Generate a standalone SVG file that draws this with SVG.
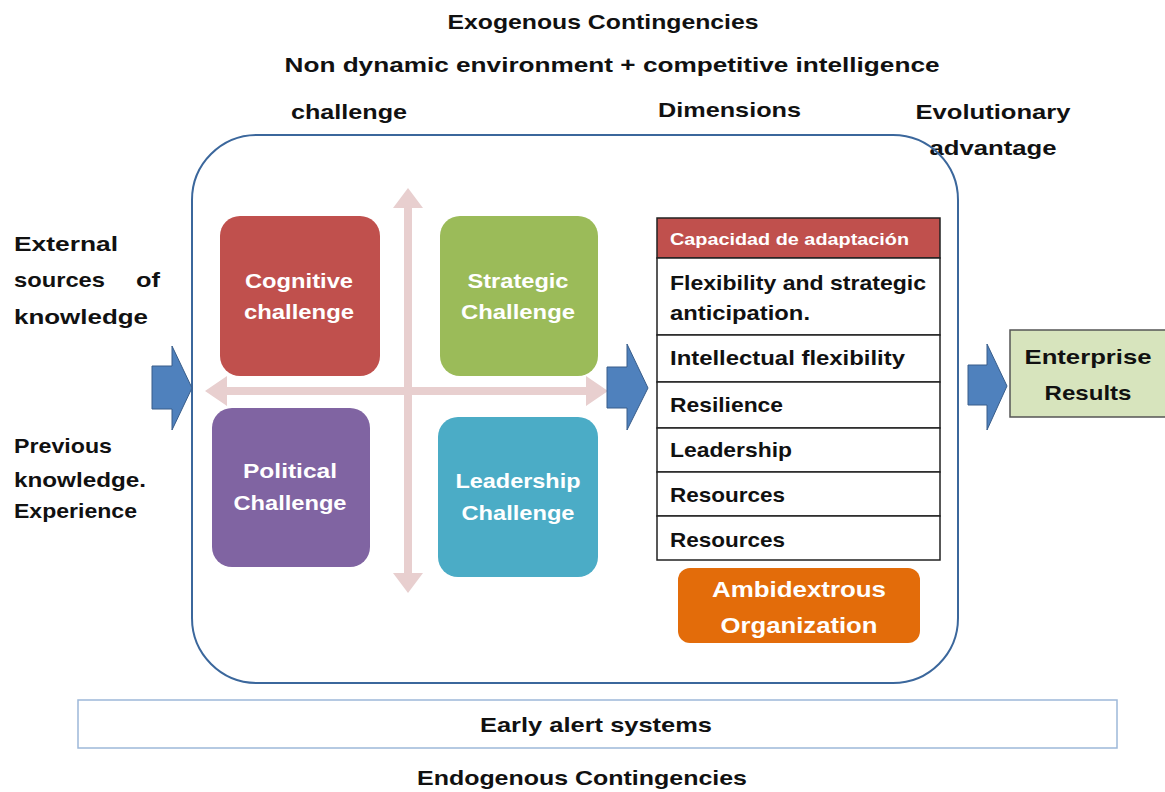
<svg xmlns="http://www.w3.org/2000/svg" width="1165" height="792" viewBox="0 0 1165 792">
<style>
text{font-family:"Liberation Sans",Arial,sans-serif;font-weight:bold;font-size:21px;fill:#111}
.w{fill:#fff}
.c{text-anchor:middle}
.quad{stroke:none}
.arr{fill:#4f81bd;stroke:#385d8a;stroke-width:1}
.cross{fill:#e8cfcf}
.row{fill:#fff;stroke:#222;stroke-width:1.5}
</style>
<rect width="1165" height="792" fill="#fff"/>
<g id="labels">
<text class="c" x="603" y="29" textLength="311" lengthAdjust="spacingAndGlyphs">Exogenous Contingencies</text>
<text class="c" x="612" y="72" textLength="655" lengthAdjust="spacingAndGlyphs">Non dynamic environment + competitive intelligence</text>
<text x="291" y="119" textLength="116" lengthAdjust="spacingAndGlyphs">challenge</text>
<text x="658" y="117" textLength="143" lengthAdjust="spacingAndGlyphs">Dimensions</text>
<text class="c" x="993" y="119" textLength="155" lengthAdjust="spacingAndGlyphs">Evolutionary</text>
<text class="c" x="993" y="155" textLength="127" lengthAdjust="spacingAndGlyphs">advantage</text>
<text x="14" y="251" textLength="104" lengthAdjust="spacingAndGlyphs">External</text>
<text x="14" y="287" textLength="91" lengthAdjust="spacingAndGlyphs">sources</text>
<text x="136" y="287" textLength="24" lengthAdjust="spacingAndGlyphs">of</text>
<text x="14" y="324" textLength="134" lengthAdjust="spacingAndGlyphs">knowledge</text>
<text x="14" y="453" textLength="98" lengthAdjust="spacingAndGlyphs">Previous</text>
<text x="14" y="487" textLength="132" lengthAdjust="spacingAndGlyphs">knowledge.</text>
<text x="14" y="518" textLength="123" lengthAdjust="spacingAndGlyphs">Experience</text>
<text class="c" x="582" y="785" textLength="330" lengthAdjust="spacingAndGlyphs">Endogenous Contingencies</text>
</g>
<g id="frame">
<rect x="192" y="135" width="766" height="548" rx="65" ry="65" fill="none" stroke="#3b679c" stroke-width="2"/>
</g>
<g id="connectors">
<polygon class="cross" points="408,188 423,208 412,208 412,387 586,387 586,376 608,391 586,406 586,395 412,395 412,573 423,573 408,593 393,573 404,573 404,395 227,395 227,406 205,391 227,376 227,387 404,387 404,208 393,208"/>
<polygon class="arr" points="152,366 172,366 172,346 192,388 172,430 172,409 152,409"/>
<polygon class="arr" points="607,367 627,367 627,344 648,388 627,430 627,408 607,408"/>
<polygon class="arr" points="968,365 987,365 987,344 1007,386 987,430 987,405 968,405"/>
</g>
<g id="cognitive">
<rect class="quad" x="220" y="216" width="160" height="160" rx="20" fill="#c0504d"/>
<text class="w c" x="299" y="288" textLength="108" lengthAdjust="spacingAndGlyphs">Cognitive</text>
<text class="w c" x="299" y="319" textLength="110" lengthAdjust="spacingAndGlyphs">challenge</text>
</g>
<g id="strategic">
<rect class="quad" x="440" y="216" width="158" height="160" rx="20" fill="#9bbb59"/>
<text class="w c" x="518" y="288" textLength="101" lengthAdjust="spacingAndGlyphs">Strategic</text>
<text class="w c" x="518" y="319" textLength="114" lengthAdjust="spacingAndGlyphs">Challenge</text>
</g>
<g id="political">
<rect class="quad" x="212" y="408" width="158" height="159" rx="20" fill="#8064a2"/>
<text class="w c" x="290" y="478" textLength="94" lengthAdjust="spacingAndGlyphs">Political</text>
<text class="w c" x="290" y="510" textLength="113" lengthAdjust="spacingAndGlyphs">Challenge</text>
</g>
<g id="leadership">
<rect class="quad" x="438" y="417" width="160" height="160" rx="20" fill="#4bacc6"/>
<text class="w c" x="518" y="488" textLength="125" lengthAdjust="spacingAndGlyphs">Leadership</text>
<text class="w c" x="518" y="520" textLength="113" lengthAdjust="spacingAndGlyphs">Challenge</text>
</g>
<g id="dimensions-table">
<rect x="657" y="218" width="283" height="40" fill="#c0504d" stroke="#222" stroke-width="1.5"/>
<text class="w" x="670" y="245" style="font-size:16px" textLength="239" lengthAdjust="spacingAndGlyphs">Capacidad de adaptación</text>
<rect class="row" x="657" y="258" width="283" height="77"/>
<text x="670" y="290" textLength="256" lengthAdjust="spacingAndGlyphs">Flexibility and strategic</text>
<text x="670" y="320" textLength="140" lengthAdjust="spacingAndGlyphs">anticipation.</text>
<rect class="row" x="657" y="335" width="283" height="47"/>
<text x="670" y="365" textLength="235" lengthAdjust="spacingAndGlyphs">Intellectual flexibility</text>
<rect class="row" x="657" y="382" width="283" height="46"/>
<text x="670" y="412" textLength="113" lengthAdjust="spacingAndGlyphs">Resilience</text>
<rect class="row" x="657" y="428" width="283" height="44"/>
<text x="670" y="457" textLength="122" lengthAdjust="spacingAndGlyphs">Leadership</text>
<rect class="row" x="657" y="472" width="283" height="44"/>
<text x="670" y="502" textLength="115" lengthAdjust="spacingAndGlyphs">Resources</text>
<rect class="row" x="657" y="516" width="283" height="44"/>
<text x="670" y="547" textLength="115" lengthAdjust="spacingAndGlyphs">Resources</text>
</g>
<g id="ambidextrous">
<rect x="678" y="568" width="242" height="75" rx="12" fill="#e36c0a"/>
<text class="w c" x="799" y="597" style="font-size:22px" textLength="174" lengthAdjust="spacingAndGlyphs">Ambidextrous</text>
<text class="w c" x="799" y="633" style="font-size:22px" textLength="157" lengthAdjust="spacingAndGlyphs">Organization</text>
</g>
<g id="enterprise-results">
<rect x="1010" y="330" width="160" height="87" fill="#d7e4bd" stroke="#555" stroke-width="1.5"/>
<text class="c" x="1088" y="364" textLength="127" lengthAdjust="spacingAndGlyphs">Enterprise</text>
<text class="c" x="1088" y="400" textLength="87" lengthAdjust="spacingAndGlyphs">Results</text>
</g>
<g id="early-alert">
<rect x="78" y="700" width="1039" height="48" fill="#fff" stroke="#9db8d9" stroke-width="1.5"/>
<text class="c" x="596" y="732" textLength="232" lengthAdjust="spacingAndGlyphs">Early alert systems</text>
</g>
</svg>
